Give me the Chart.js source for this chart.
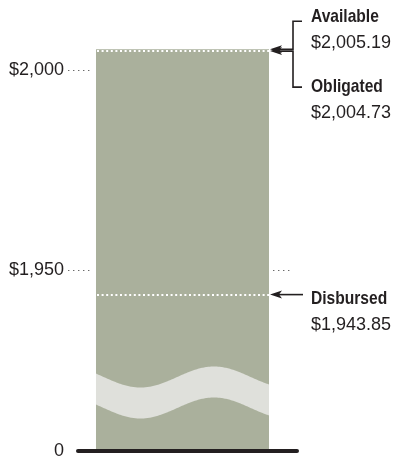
<!DOCTYPE html>
<html>
<head>
<meta charset="utf-8">
<script src="https://cdn.jsdelivr.net/npm/chart.js@4/dist/chart.umd.min.js"></script>
<style>
    html, body { margin: 0; padding: 0; background: #fff; }
    .chart-box { width: 399px; height: 460px; }
</style>
</head>
<body>
<div class="chart-box"><canvas id="chart-item"></canvas></div>
<script>
// Data
var categories = ['Funds']
var barValues = [2005.19]
var markerNames = ['Available', 'Obligated', 'Disbursed']
var markerValues = [2005.19, 2004.73, 1943.85]
var tickValues = [1950, 2000]
var axisMin = 1904.75   // where the broken axis starts, labelled "0"
var axisMax = 2010

var ink = '#231f20'
var barColor = '#aab09c'

function money(v, digits) {
    return '$' + v.toLocaleString('en-US', { minimumFractionDigits: digits, maximumFractionDigits: digits })
}

// Extra drawing: guides, break wave, markers, baseline
var decorPlugin = {
    id: 'decor',
    afterDatasetsDraw: function (chart) {
        var ctx = chart.ctx
        var y = chart.scales.y
        var area = chart.chartArea
        var bar = chart.getDatasetMeta(0).data[0]
        var left = bar.x - bar.width / 2
        var right = bar.x + bar.width / 2
        var markerYs = markerValues.map(function (v) { return y.getPixelForValue(v) })

        ctx.save()

        // dotted guides beside the bar
        ctx.strokeStyle = '#6b6b6b'
        ctx.lineWidth = 1.2
        ctx.setLineDash([1.4, 3.6])
        tickValues.forEach(function (t) {
            var py = Math.round(y.getPixelForValue(t)) + 0.5
            ctx.beginPath()
            ctx.moveTo(area.left, py)
            ctx.lineTo(left - 3, py)
            ctx.stroke()
            var busy = markerYs.some(function (m) { return Math.abs(m - py) < 20 })
            if (!busy) {
                ctx.beginPath()
                ctx.moveTo(right + 4, py)
                ctx.lineTo(right + 22, py)
                ctx.stroke()
            }
        })

        // axis break wave
        ctx.setLineDash([])
        var mid = area.bottom - 58.5
        var amp = 10.5
        var half = 15.5
        var period = 147
        ctx.fillStyle = '#dfe0db'
        ctx.beginPath()
        for (var x = left; x <= right; x++) {
            var c = mid + amp * Math.sin(2 * Math.PI * (x - left) / period - 0.33)
            if (x === left) ctx.moveTo(x, c - half)
            else ctx.lineTo(x, c - half)
        }
        for (var x2 = right; x2 >= left; x2--) {
            var c2 = mid + amp * Math.sin(2 * Math.PI * (x2 - left) / period - 0.33)
            ctx.lineTo(x2, c2 + half)
        }
        ctx.closePath()
        ctx.fill()

        // white dotted lines across the bar (not the bar top)
        ctx.strokeStyle = '#ffffff'
        ctx.lineWidth = 2
        ctx.setLineDash([2, 2.6])
        markerValues.forEach(function (v, i) {
            if (v === barValues[0]) return
            var py = Math.round(markerYs[i])
            ctx.beginPath()
            ctx.moveTo(left + 1, py)
            ctx.lineTo(right, py)
            ctx.stroke()
        })
        ctx.setLineDash([])

        // arrows and labels
        var dirs = [-1, 1, 0]
        var hookX = right + 24
        var textX = right + 42
        ctx.strokeStyle = ink
        ctx.fillStyle = ink
        ctx.lineWidth = 1.6
        markerValues.forEach(function (v, i) {
            var py = markerYs[i]
            var dir = dirs[i]
            var nameY, hookY
            ctx.beginPath()
            ctx.moveTo(right + 9, py)
            if (dir === 0) {
                ctx.lineTo(right + 34, py)
                nameY = py + 4
            } else {
                hookY = dir < 0 ? py - 28 : py + 36
                ctx.lineTo(hookX, py)
                ctx.lineTo(hookX, hookY)
                ctx.lineTo(right + 33, hookY)
                nameY = dir < 0 ? hookY - 4 : hookY
            }
            ctx.stroke()

            // barbed arrow head
            var tip = right + 1
            ctx.beginPath()
            ctx.moveTo(tip, py)
            ctx.lineTo(tip + 12, py - 4)
            ctx.lineTo(tip + 9, py)
            ctx.lineTo(tip + 12, py + 4)
            ctx.closePath()
            ctx.fill()

            ctx.textAlign = 'left'
            ctx.textBaseline = 'middle'
            // condensed bold name
            ctx.save()
            ctx.translate(textX, nameY)
            ctx.scale(0.82, 1)
            ctx.font = 'bold 19px "Liberation Sans", Arial, sans-serif'
            ctx.fillText(markerNames[i], 0, 0)
            ctx.restore()
            ctx.font = '18px "Liberation Sans", Arial, sans-serif'
            ctx.fillText(money(v, 2), textX, nameY + 26)
        })

        // baseline
        var by = y.getPixelForValue(axisMin)
        ctx.lineWidth = 4
        ctx.lineCap = 'round'
        ctx.beginPath()
        ctx.moveTo(area.left + 10, by)
        ctx.lineTo(area.right, by)
        ctx.stroke()

        ctx.restore()
    }
}

// Chart Section
const ctx = document.getElementById('chart-item').getContext('2d')
const myChart = new Chart(ctx, {
    type: 'bar',
    data: {
        labels: categories,
        datasets: [{
            data: barValues,
            backgroundColor: barColor,
            borderWidth: 0,
            categoryPercentage: 1,
            barPercentage: 0.7555
        }]
    },
    options: {
        responsive: true,
        maintainAspectRatio: false,
        animation: false,
        layout: { padding: { top: 30, bottom: 9, right: 102, left: 0 } },
        plugins: {
            legend: { display: false },
            tooltip: { enabled: false }
        },
        scales: {
            x: { display: false },
            y: {
                min: axisMin,
                max: axisMax,
                grid: { display: false, drawTicks: false },
                border: { display: false },
                afterFit: function (scale) {
                    scale.width = 68
                    scale.paddingTop = 0
                    scale.paddingBottom = 0
                },
                afterBuildTicks: function (scale) {
                    scale.ticks = [axisMin].concat(tickValues).map(function (v) { return { value: v } })
                },
                ticks: {
                    padding: 4,
                    color: ink,
                    font: { family: '"Liberation Sans", Arial, sans-serif', size: 18 },
                    callback: function (v) {
                        return v === axisMin ? '0' : money(v, 0)
                    }
                }
            }
        }
    },
    plugins: [decorPlugin]
})
</script>
</body>
</html>
